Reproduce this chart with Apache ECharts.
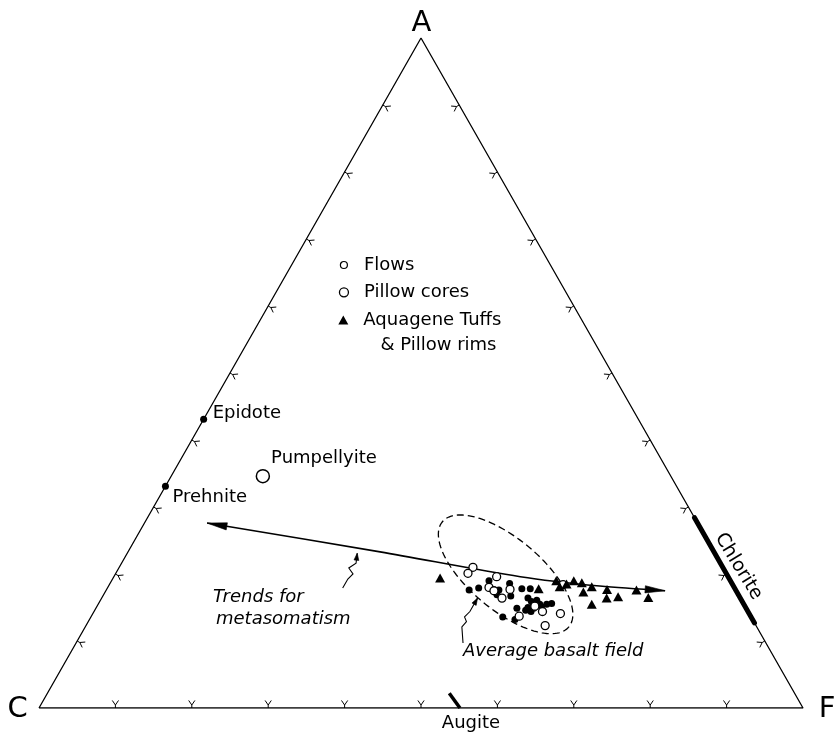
<!DOCTYPE html>
<html>
<head>
<meta charset="utf-8">
<script src="https://cdn.jsdelivr.net/npm/echarts@6/dist/echarts.min.js"></script>
<style>html,body{margin:0;padding:0;background:#fff}#c{width:835px;height:733px}</style>
</head>
<body>
<div id="c"></div>
<script>
// All compositions are ternary percentages [A, C, F]
const vertexLabels = ['A', 'C', 'F'];
const tickValues = [10, 20, 30, 40, 50, 60, 70, 80, 90];

const flows = [
  [17.6,34.9,47.5],[17.9,33.5,48.6],[19.0,31.6,49.4],[17.6,31.0,51.4],[16.9,31.6,51.5],
  [18.6,29.1,52.3],[16.7,29.9,53.4],[17.8,27.9,54.3],[17.8,26.8,55.4],[16.4,27.8,55.8],
  [15.9,27.6,56.5],[16.1,26.8,57.1],[15.5,26.7,57.8],[15.0,28.5,56.5],[14.9,27.8,57.3],
  [15.1,26.7,58.2],[15.5,25.8,58.7],[15.6,25.1,59.3],[14.9,30.0,55.1],[14.6,29.0,56.4],
  [14.4,28.4,57.2],[13.6,32.5,53.9],[13.2,31.1,55.7],[15.6,27.5,56.9]
];
const pillowCores = [
  [21.0,32.7,46.3],[20.1,33.8,46.1],[19.6,30.3,50.1],[18.0,32.1,49.9],[17.5,31.7,50.8],
  [17.7,29.5,52.8],[16.4,31.2,52.4],[15.2,27.5,57.3],[14.4,26.9,58.7],[14.1,24.7,61.2],
  [13.7,30.3,56.0],[12.3,27.6,60.1],[18.4,22.2,59.4]
];
const aquageneTuffs = [
  [19.4,37.8,42.8],[17.8,25.7,56.5],[19.0,22.8,58.2],[18.1,22.8,59.1],[18.5,21.7,59.8],
  [19.0,20.5,60.5],[18.7,19.6,61.7],[17.3,20.1,62.6],[18.1,18.6,63.3],[15.5,19.9,64.6],
  [17.7,16.8,65.5],[16.4,17.5,66.1],[16.6,15.9,67.5],[17.6,13.0,69.4],[16.5,12.0,71.5]
];
const mineralNames = ['Epidote', 'Prehnite', 'Pumpellyite'];
const mineralValues = [[43.1,56.9,0],[33.1,66.9,0],[34.6,53.4,12.0]];
const chloriteRange = [[28.4,0,71.6],[12.7,0,87.3]];
const augiteRange = [[2.2,45.2,52.6],[0,44.9,55.1]];
const trendPath = [[27.6,64.2,8.2],[23.3,43.7,33.0],[19.6,27.2,53.2],[18.2,17.5,64.3],[17.5,9.3,73.2]];
const basaltFieldAxis = [[27.8,33.3,38.9],[12.1,24.6,63.3]];
const basaltFieldMinorRatio = 0.436;
const trendPointer = [[17.9,51.3,30.8],[19.25,49.95,30.8],[20.0,48.9,31.1],[20.9,49.0,30.1],[21.6,47.7,30.7],[23.1,46.8,30.1]];
const basaltPointer = [[9.7,39.65,50.65],[12.1,38.6,49.3],[12.9,37.6,49.5],[13.6,37.5,48.9],[14.4,36.4,49.2],[15.4,35.4,49.2],[16.4,34.4,49.2]];
const seriesNames = ['Flows', 'Pillow cores', 'Aquagene Tuffs\n   & Pillow rims'];

const FONT = 'DejaVu Sans';
const INK = '#000';

function toXY(t) {
  const s = t[0] + t[1] + t[2];
  const a = t[0] / s, f = t[2] / s;
  return [f + a / 2, a];
}
function rot(v, ang) {
  const c = Math.cos(ang), s = Math.sin(ang);
  return [v[0] * c - v[1] * s, v[0] * s + v[1] * c];
}
function edgeNormal(api, e) {
  const Cp = api.coord(toXY([0,100,0])), Fp = api.coord(toXY([0,0,100])), Ap = api.coord(toXY([100,0,0]));
  const ends = [[Cp, Fp], [Cp, Ap], [Ap, Fp]][e];
  const G = [(Cp[0] + Fp[0] + Ap[0]) / 3, (Cp[1] + Fp[1] + Ap[1]) / 3];
  let dx = ends[1][0] - ends[0][0], dy = ends[1][1] - ends[0][1];
  const L = Math.hypot(dx, dy); dx /= L; dy /= L;
  let n = [-dy, dx];
  const m = [(ends[0][0] + ends[1][0]) / 2, (ends[0][1] + ends[1][1]) / 2];
  if ((G[0] - m[0]) * n[0] + (G[1] - m[1]) * n[1] < 0) n = [dy, -dx];
  return n;
}
function arrowHead(tip, from, len, hw) {
  let dx = tip[0] - from[0], dy = tip[1] - from[1];
  const L = Math.hypot(dx, dy); dx /= L; dy /= L;
  const b = [tip[0] - dx * len, tip[1] - dy * len];
  return {type: 'polygon', shape: {points: [tip, [b[0] - dy * hw, b[1] + dx * hw], [b[0] + dy * hw, b[1] - dx * hw]]},
          style: {fill: INK, stroke: INK, lineWidth: 0.6}};
}

const tickData = [];
tickValues.forEach(k => {
  tickData.push([...toXY([0, 100 - k, k]), 0]);
  tickData.push([...toXY([k, 100 - k, 0]), 1]);
  tickData.push([...toXY([k, 0, 100 - k]), 2]);
});

function renderTick(params, api) {
  const p = api.coord([api.value(0), api.value(1)]);
  const n = edgeNormal(api, api.value(2));
  const q = [p[0] + n[0] * 3, p[1] + n[1] * 3];
  const a1 = rot(n, 0.6), a2 = rot(n, -0.6);
  return {type: 'group', children: [
    {type: 'line', shape: {x1: p[0], y1: p[1], x2: q[0], y2: q[1]}, style: {stroke: INK, lineWidth: 1}},
    {type: 'polyline', shape: {points: [[q[0] + a1[0] * 5.5, q[1] + a1[1] * 5.5], q, [q[0] + a2[0] * 5.5, q[1] + a2[1] * 5.5]]},
     style: {stroke: INK, lineWidth: 1, fill: 'none'}}
  ]};
}
function renderTrend(params, api) {
  const pts = trendPath.map(t => api.coord(toXY(t)));
  const n = pts.length;
  return {type: 'group', children: [
    {type: 'polyline', shape: {points: pts, smooth: 0.3}, style: {stroke: INK, lineWidth: 1.6, fill: 'none'}},
    arrowHead(pts[0], pts[1], 20, 3.6),
    arrowHead(pts[n - 1], pts[n - 2], 20, 3.6)
  ]};
}
function makePointerRender(path) {
  return function (params, api) {
    const pts = path.map(t => api.coord(toXY(t)));
    const n = pts.length;
    return {type: 'group', children: [
      {type: 'polyline', shape: {points: pts}, style: {stroke: INK, lineWidth: 1.1, fill: 'none'}},
      arrowHead(pts[n - 1], pts[n - 2], 7, 2.4)
    ]};
  };
}
function renderEllipse(params, api) {
  const p1 = api.coord(toXY(basaltFieldAxis[0])), p2 = api.coord(toXY(basaltFieldAxis[1]));
  const cx = (p1[0] + p2[0]) / 2, cy = (p1[1] + p2[1]) / 2;
  const a = Math.hypot(p2[0] - p1[0], p2[1] - p1[1]) / 2, b = a * basaltFieldMinorRatio;
  const th = Math.atan2(p2[1] - p1[1], p2[0] - p1[0]);
  const pts = [];
  for (let i = 0; i < 144; i++) {
    const t = i / 144 * 2 * Math.PI;
    const x = a * Math.cos(t), y = b * Math.sin(t);
    pts.push([cx + x * Math.cos(th) - y * Math.sin(th), cy + x * Math.sin(th) + y * Math.cos(th)]);
  }
  return {type: 'polygon', shape: {points: pts}, style: {fill: 'none', stroke: INK, lineWidth: 1.3, lineDash: [7, 4]}};
}

const textBase = {fontFamily: FONT, fill: INK};
function txt(text, x, y, opts) {
  opts = opts || {};
  return {type: 'text', x: x, y: y, rotation: opts.rotation || 0, silent: true,
    style: Object.assign({}, textBase, {text: text, fontSize: opts.size || 18, fontStyle: opts.italic ? 'italic' : 'normal',
      align: opts.align || 'left', verticalAlign: 'middle', textAlign: opts.align || 'left', textVerticalAlign: 'middle'})};
}

const legendText = {fontFamily: FONT, fontSize: 18, color: INK};
const labelText = {show: true, formatter: '{b}', color: INK, opacity: 1, textBorderWidth: 0, fontFamily: FONT, fontSize: 18};
const option = {
  animation: false,
  backgroundColor: '#fff',
  grid: {left: 39, right: 32, top: 38, bottom: 25, outerBoundsMode: 'none'},
  xAxis: {type: 'value', min: 0, max: 1, show: false},
  yAxis: {type: 'value', min: 0, max: 1, show: false},
  legend: [
    {data: [{name: seriesNames[0], icon: 'circle', itemStyle: {color: '#fff', borderColor: INK, borderWidth: 1.2}}],
     left: 339.8, top: 256, itemWidth: 30, itemHeight: 7, padding: 0, selectedMode: false, textStyle: legendText},
    {data: [{name: seriesNames[1], icon: 'circle', itemStyle: {color: '#fff', borderColor: INK, borderWidth: 1.3}}],
     left: 338.8, top: 283.3, itemWidth: 30, itemHeight: 9, padding: 0, selectedMode: false, textStyle: legendText},
    {data: [{name: seriesNames[2], icon: 'path://M5,0L10,9L0,9Z M5,34L5,34.01', itemStyle: {color: INK, borderWidth: 0}}],
     left: 338.3, top: 307.5, itemWidth: 30, itemHeight: 34, padding: 0, selectedMode: false,
     textStyle: Object.assign({lineHeight: 25}, legendText)}
  ],
  graphic: [
    txt(vertexLabels[0], 421.5, 23, {size: 29, align: 'center'}),
    txt(vertexLabels[1], 17.5, 709, {size: 29, align: 'center'}),
    txt(vertexLabels[2], 827, 709, {size: 29, align: 'center'}),
    txt('Augite', 471, 723, {size: 18, align: 'center'}),
    txt('Chlorite', 738.5, 566.5, {size: 19, align: 'center', rotation: -1.023}),
    txt('Average basalt field', 463, 651, {size: 18, italic: true}),
    txt('Trends for', 213, 597, {size: 18, italic: true}),
    txt('metasomatism', 216, 619, {size: 18, italic: true})
  ],
  series: [
    {type: 'line', name: 'edges', silent: true, symbol: 'none',
     data: [toXY([0,100,0]), toXY([0,0,100]), toXY([100,0,0]), toXY([0,100,0])],
     lineStyle: {color: INK, width: 1.3}},
    {type: 'custom', name: 'ticks', silent: true, renderItem: renderTick, data: tickData},
    {type: 'line', name: 'Chlorite', silent: true, symbol: 'none', data: chloriteRange.map(toXY),
     lineStyle: {color: INK, width: 5, cap: 'round'}},
    {type: 'line', name: 'Augite', silent: true, symbol: 'none', data: augiteRange.map(toXY),
     lineStyle: {color: INK, width: 3.5}},
    {type: 'custom', name: 'basaltField', silent: true, renderItem: renderEllipse, data: [[0, 0]]},
    {type: 'custom', name: 'trend', silent: true, renderItem: renderTrend, data: [[0, 0]]},
    {type: 'custom', name: 'trendPointer', silent: true, renderItem: makePointerRender(trendPointer), data: [[0, 0]]},
    {type: 'custom', name: 'basaltPointer', silent: true, renderItem: makePointerRender(basaltPointer), data: [[0, 0]]},
    {type: 'scatter', name: seriesNames[0], symbol: 'circle', symbolSize: 7, data: flows.map(toXY),
     itemStyle: {color: INK, opacity: 1}, z: 5},
    {type: 'scatter', name: seriesNames[1], symbol: 'circle', symbolSize: 8, data: pillowCores.map(toXY),
     itemStyle: {color: '#fff', borderColor: INK, borderWidth: 1.3, opacity: 1}, z: 5},
    {type: 'scatter', name: seriesNames[2], symbol: 'triangle', symbolSize: [10, 9], data: aquageneTuffs.map(toXY),
     itemStyle: {color: INK, opacity: 1}, z: 5},
    {type: 'scatter', name: 'minerals', z: 5, label: labelText,
     data: [
       {name: mineralNames[0], value: toXY(mineralValues[0]), symbol: 'circle', symbolSize: 7, itemStyle: {color: INK, opacity: 1},
        label: {position: 'right', distance: 5.5, offset: [0, -6]}},
       {name: mineralNames[1], value: toXY(mineralValues[1]), symbol: 'circle', symbolSize: 7, itemStyle: {color: INK, opacity: 1},
        label: {position: 'right', distance: 3.5, offset: [0, 11]}},
       {name: mineralNames[2], value: toXY(mineralValues[2]), symbol: 'circle', symbolSize: 13,
        itemStyle: {color: '#fff', borderColor: INK, borderWidth: 1.5, opacity: 1},
        label: {position: 'right', distance: 1, offset: [0, -18]}}
     ]}
  ]
};
const chart = echarts.init(document.getElementById('c'));
chart.setOption(option);
</script>
</body>
</html>
